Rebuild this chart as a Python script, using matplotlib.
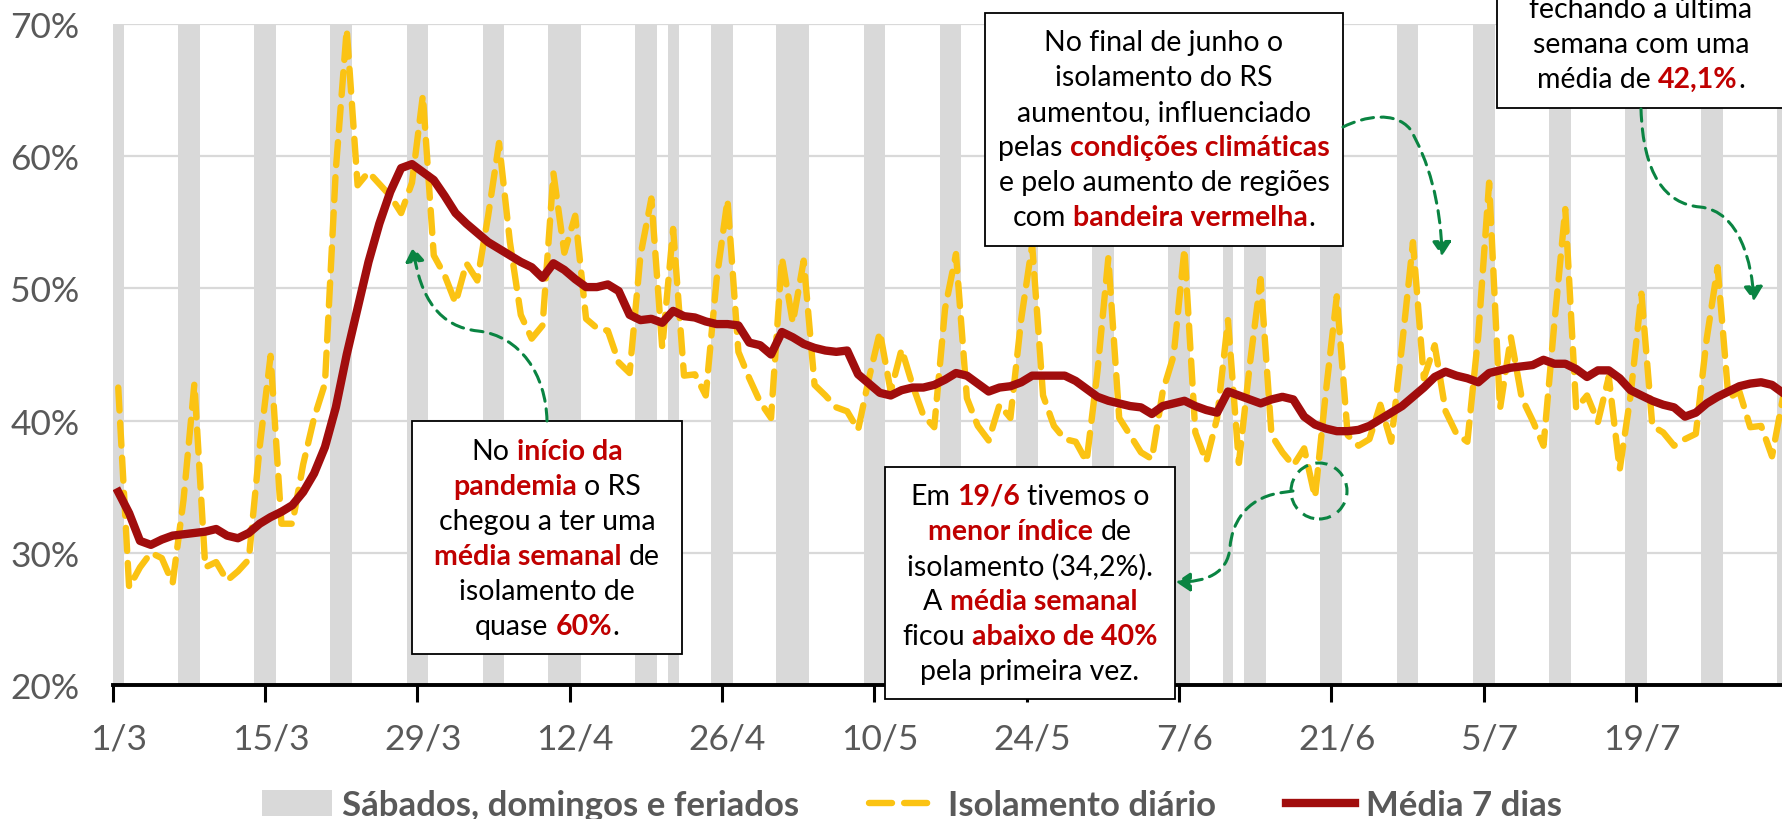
import matplotlib.pyplot as plt
from matplotlib.patches import Rectangle, Ellipse, FancyArrowPatch, Patch
from matplotlib.lines import Line2D
from matplotlib.path import Path

plt.rcParams['font.family'] = ['Lato', 'DejaVu Sans']

# dia 0 = 1/3/2020
isolamento_diario = [
    42.5, 27.4, 28.9, 30.0, 29.6, 27.7, 34.0, 42.8, 28.9, 29.3,
    27.9, 28.6, 29.5, 38.0, 44.9, 32.2, 32.2, 36.7, 40.2, 42.8,
    59.0, 69.6, 57.8, 58.8, 57.9, 57.0, 55.7, 58.0, 64.6, 52.5,
    51.0, 48.9, 51.9, 50.6, 55.5, 61.0, 53.5, 48.0, 46.2, 47.2,
    58.7, 52.7, 55.5, 47.7, 47.0, 46.8, 44.4, 43.6, 52.5, 56.8,
    45.5, 54.5, 43.4, 43.5, 41.9, 50.7, 56.7, 45.2, 43.2, 41.4,
    40.2, 52.3, 47.4, 52.1, 42.7, 41.9, 41.0, 40.7, 39.3, 43.2,
    46.7, 42.2, 45.4, 42.7, 40.4, 39.5, 48.5, 52.6, 41.7, 39.6,
    38.5, 41.2, 40.2, 47.7, 53.3, 41.9, 39.6, 38.6, 38.4, 36.9,
    43.7, 52.3, 40.2, 38.9, 37.6, 37.1, 42.2, 44.9, 53.0, 39.1,
    36.9, 40.2, 47.6, 36.8, 44.2, 50.7, 38.9, 37.6, 36.6, 37.9,
    34.2, 42.2, 49.4, 38.9, 38.1, 38.6, 41.2, 38.4, 45.7, 53.5,
    43.2, 45.7, 40.7, 39.0, 38.4, 46.4, 58.0, 40.9, 46.3, 41.7,
    40.0, 38.1, 47.4, 56.0, 40.9, 41.9, 39.9, 43.3, 36.3, 41.9,
    49.6, 39.6, 39.1, 38.1, 38.6, 39.0, 46.2, 51.6, 41.7, 42.2,
    39.5, 39.6, 37.3, 41.7,
]

media_7_dias = [
    34.6, 33.0, 30.9, 30.6, 31.0, 31.3, 31.4, 31.5, 31.6, 31.8,
    31.3, 31.1, 31.5, 32.2, 32.7, 33.1, 33.6, 34.6, 36.0, 38.0,
    41.0, 45.0, 48.5, 52.0, 54.9, 57.3, 59.1, 59.4, 58.8, 58.2,
    57.0, 55.7, 54.9, 54.2, 53.5, 53.0, 52.5, 52.0, 51.6, 50.8,
    51.9, 51.4, 50.7, 50.1, 50.1, 50.3, 49.8, 48.0, 47.6, 47.7,
    47.4, 48.3, 47.9, 47.8, 47.5, 47.3, 47.3, 47.2, 45.9, 45.7,
    45.0, 46.7, 46.3, 45.8, 45.5, 45.3, 45.2, 45.3, 43.5, 42.8,
    42.1, 41.9, 42.3, 42.5, 42.5, 42.7, 43.1, 43.6, 43.4, 42.8,
    42.2, 42.5, 42.6, 42.9, 43.4, 43.4, 43.4, 43.4, 43.0, 42.4,
    41.8, 41.5, 41.3, 41.1, 41.0, 40.5, 41.1, 41.3, 41.5, 41.1,
    40.8, 40.6, 42.2, 41.9, 41.6, 41.3, 41.6, 41.8, 41.6, 40.3,
    39.7, 39.4, 39.2, 39.2, 39.3, 39.6, 40.1, 40.6, 41.1, 41.8,
    42.5, 43.3, 43.7, 43.4, 43.2, 42.9, 43.6, 43.8, 44.0, 44.1,
    44.2, 44.6, 44.3, 44.3, 43.9, 43.3, 43.8, 43.8, 43.2, 42.3,
    41.9, 41.5, 41.2, 41.0, 40.3, 40.6, 41.3, 41.8, 42.2, 42.6,
    42.8, 42.9, 42.7, 42.1,
]

# sabados, domingos e feriados (indice do dia)
dias_cinza = [0, 6, 7, 13, 14, 20, 21, 27, 28, 34, 35, 40, 41, 42, 48, 49, 51,
              55, 56, 61, 62, 63, 69, 70, 76, 77, 83, 84, 90, 91, 97, 98, 102,
              104, 105, 111, 112, 118, 119, 125, 126, 132, 133, 139, 140, 146,
              147, 153, 154]

tick_dias = [0, 14, 28, 42, 56, 70, 84, 98, 112, 126, 140]
tick_rotulos = ['1/3', '15/3', '29/3', '12/4', '26/4', '10/5', '24/5', '7/6',
                '21/6', '5/7', '19/7']

W, H = 1782, 820
cinza = '#D9D9D9'
amarelo = '#FBC313'
vermelho = '#A10D0D'
destaque = '#C00000'
verde = '#0A8442'
texto_cinza = '#595959'

fig = plt.figure(figsize=(W / 100, H / 100), dpi=100)
ax = fig.add_axes([112.8 / W, 1 - 686 / H, 155 * 10.88 / W, 661 / H])

x = [d + 0.5 for d in range(len(isolamento_diario))]

ax.bar(dias_cinza, 50, bottom=20, width=1, align='edge', color=cinza, zorder=1)
ax.plot(x, isolamento_diario, color=amarelo, lw=4.6, dashes=(3.6, 1.9),
        dash_capstyle='round', zorder=3)
ax.plot(x, media_7_dias, color=vermelho, lw=6.0, solid_joinstyle='round', zorder=4)

ax.set_xlim(0, 155)
ax.set_ylim(20, 70)
ax.set_yticks([20, 30, 40, 50, 60, 70])
ax.set_yticklabels(['20%', '30%', '40%', '50%', '60%', '70%'])
ax.yaxis.grid(True, color=cinza, lw=1.6)
ax.set_axisbelow(True)
ax.tick_params(axis='y', length=0, pad=24, labelsize=25.5, labelcolor=texto_cinza)

ax.set_xticks(tick_dias)
ax.set_xticklabels([])
ax.tick_params(axis='x', which='major', length=12, width=2.2, color='black')
ax.set_xticks([d + 0.5 for d in tick_dias], minor=True)
ax.set_xticklabels(tick_rotulos, minor=True)
ax.tick_params(axis='x', which='minor', length=0, pad=27, labelsize=25.5,
               labelcolor=texto_cinza)

for s in ['left', 'right', 'top']:
    ax.spines[s].set_visible(False)
ax.spines['bottom'].set_linewidth(2.8)
ax.spines['bottom'].set_zorder(5)


def P(px, py):
    return (px / W, 1 - py / H)


renderer = fig.canvas.get_renderer()
tam = 20.5


def largura(s, peso):
    t = fig.text(0, 0, s, fontsize=tam, fontweight=peso)
    w = t.get_window_extent(renderer).width
    t.remove()
    return w


espaco = largura('a a', 'normal') - largura('aa', 'normal')


def linha(cx, cy, partes):
    itens = []
    for txt, forte in partes:
        peso = 'bold' if forte else 'normal'
        cor = destaque if forte else 'black'
        nucleo = txt.strip(' ')
        antes = (len(txt) - len(txt.lstrip(' '))) * espaco
        depois = (len(txt) - len(txt.rstrip(' '))) * espaco
        t = fig.text(0, 0, nucleo, fontsize=tam, fontweight=peso, color=cor,
                     va='center', ha='left', zorder=7)
        w = t.get_window_extent(renderer).width
        itens.append((t, antes, w, depois))
    total = sum(a + w + d for _, a, w, d in itens)
    xx = cx - total / 2
    for t, a, w, d in itens:
        xx += a
        t.set_position(P(xx, cy))
        xx += w + d


def caixa(x0, y0, x1, y1):
    r = Rectangle(P(x0, y1), (x1 - x0) / W, (y1 - y0) / H, transform=fig.transFigure,
                  facecolor='white', edgecolor='black', lw=1.3, zorder=6)
    fig.add_artist(r)


# caixa 1
caixa(412, 422, 682, 655)
linhas1 = [
    [('No ', False), ('início da', True)],
    [('pandemia', True), (' o RS', False)],
    [('chegou a ter uma', False)],
    [('média semanal', True), (' de', False)],
    [('isolamento de', False)],
    [('quase ', False), ('60%', True), ('.', False)],
]
for i, l in enumerate(linhas1):
    linha(547, 452 + 35 * i, l)

# caixa 2
caixa(985, 14, 1343, 247)
linhas2 = [
    [('No final de junho o', False)],
    [('isolamento do RS', False)],
    [('aumentou, influenciado', False)],
    [('pelas ', False), ('condições climáticas', True)],
    [('e pelo aumento de regiões', False)],
    [('com ', False), ('bandeira vermelha', True), ('.', False)],
]
for i, l in enumerate(linhas2):
    linha(1164, 43 + 35 * i, l)

# caixa 3
caixa(885, 468, 1175, 700)
linhas3 = [
    [('Em ', False), ('19/6', True), (' tivemos o', False)],
    [('menor índice', True), (' de', False)],
    [('isolamento (34,2%).', False)],
    [('A ', False), ('média semanal', True)],
    [('ficou ', False), ('abaixo de 40%', True)],
    [('pela primeira vez.', False)],
]
for i, l in enumerate(linhas3):
    linha(1030, 497 + 35 * i, l)

# caixa 4 (cortada no topo)
caixa(1497, -100, 1790, 109)
linhas4 = [
    [('fechando a última', False)],
    [('semana com uma', False)],
    [('média de ', False), ('42,1%', True), ('.', False)],
]
for i, l in enumerate(linhas4):
    linha(1641, 10 + 35 * i, l)


def seta(pontos, codigos):
    verts = [P(px, py) for px, py in pontos]
    a = FancyArrowPatch(path=Path(verts, codigos), arrowstyle='-|>,head_length=0.6,head_width=0.4',
                        mutation_scale=14, color=verde, lw=2.2, linestyle=(0, (4, 2.5)),
                        shrinkA=0, shrinkB=0, transform=fig.transFigure, zorder=8)
    fig.add_artist(a)


C = [Path.MOVETO] + [Path.CURVE4] * 6
seta([(547, 422), (546, 375), (520, 337), (478, 332), (440, 328), (420, 300), (413, 248)], C)
seta([(1343, 128), (1365, 117), (1395, 112), (1410, 130), (1428, 160), (1441, 205), (1442, 257)], C)
seta([(1641, 110), (1643, 175), (1665, 205), (1700, 208), (1740, 212), (1752, 265), (1754, 302)], C)
seta([(1293, 492), (1279, 494), (1245, 500), (1232, 525), (1230, 548), (1228, 575), (1205, 583), (1176, 583)],
     [Path.MOVETO, Path.LINETO] + [Path.CURVE4] * 6)

circulo = Ellipse(P(1319, 492), 56 / W, 56 / H, transform=fig.transFigure, fill=False,
                  edgecolor=verde, lw=2.2, linestyle=(0, (4, 2.5)), zorder=8)
fig.add_artist(circulo)

handles = [
    Patch(facecolor=cinza),
    Line2D([], [], color=amarelo, lw=4.6, dashes=(3.6, 1.9), dash_capstyle='round'),
    Line2D([], [], color=vermelho, lw=6.0),
]
rotulos = ['Sábados, domingos e feriados', 'Isolamento diário', 'Média 7 dias']
fig.legend(handles, rotulos, loc='center', bbox_to_anchor=P(912, 806), ncol=3,
           frameon=False, prop={'weight': 'bold', 'size': 25}, labelcolor=texto_cinza,
           handlelength=2.0, handleheight=0.75, handletextpad=0.3, columnspacing=2.0)

fig.savefig('out.png', dpi=100)
